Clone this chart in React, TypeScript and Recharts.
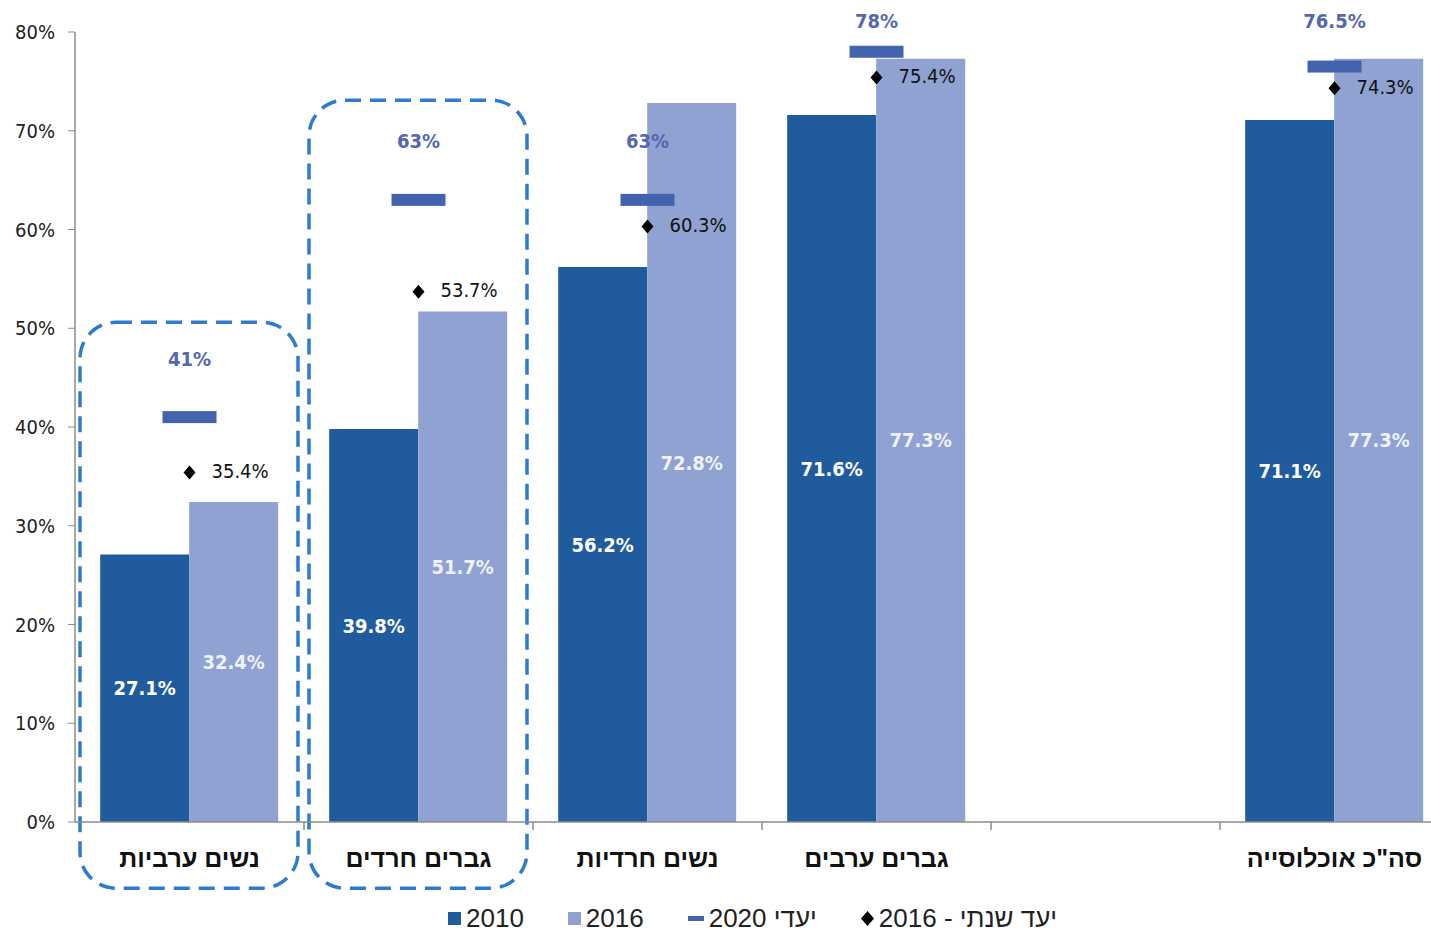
import React from "react";
import { Bar, ComposedChart, LabelList, Legend, ReferenceArea, Scatter, XAxis, YAxis } from "recharts";

const categories = ["נשים ערביות", "גברים חרדים", "נשים חרדיות", "גברים ערבים", "", 'סה"כ אוכלוסייה'];
const values2010 = [27.1, 39.8, 56.2, 71.6, null, 71.1];
const values2016 = [32.4, 51.7, 72.8, 77.3, null, 77.3];
const target2020 = [41, 63, 63, 78, null, 76.5];
const annual2016 = [35.4, 53.7, 60.3, 75.4, null, 74.3];
const yTicks = [0, 10, 20, 30, 40, 50, 60, 70, 80];

// dashed frames around the first two groups (in % units)
const boxedCategories = ["נשים ערביות", "גברים חרדים"];
const boxTops = [50.6, 73.1];
const boxBottom = -6.7;

const legendLabels = ["2010", "2016", "יעדי 2020", "יעד שנתי - 2016"];

const DARK = "#1f5b9d";
const LIGHT = "#8fa2d1";
const TARGET = "#4363ae";
const TARGET_TEXT = "#5467b0";
const FRAME = "#2d7bd0";
const FONT = '"DejaVu Sans Condensed", "Open Sans", "DejaVu Sans", sans-serif';

const rows = categories.map((name, i) => ({
  name,
  y2010: values2010[i],
  y2016: values2016[i],
  target: target2020[i],
  annual: annual2016[i],
}));

function CategoryTick(props: any) {
  const { x, y, payload, width } = props;
  const half = width / categories.length / 2;
  return (
    <g>
      <line x1={x + half} x2={x + half} y1={y} y2={y + 8} stroke="#8c8c8c" strokeWidth={1.5} />
      <text
        x={x}
        y={y + 45}
        textAnchor="middle"
        fill="#111"
        fontFamily='"Liberation Sans", Arial, sans-serif'
        fontWeight="bold"
        fontSize={25}
      >
        {payload.value}
      </text>
    </g>
  );
}

function TargetShape(props: any) {
  const { cx, cy, payload } = props;
  if (payload?.target == null || cx == null || cy == null) return <g />;
  return (
    <g>
      <rect x={cx - 27} y={cy - 6} width={54} height={12} fill={TARGET} />
      <text
        x={cx}
        y={Math.max(cy - 57, 22)}
        textAnchor="middle"
        dominantBaseline="middle"
        fill={TARGET_TEXT}
        fontFamily={FONT}
        fontWeight="bold"
        fontSize={20}
      >
        {`${payload.target}%`}
      </text>
    </g>
  );
}

function AnnualShape(props: any) {
  const { cx, cy, payload } = props;
  if (payload?.annual == null || cx == null || cy == null) return <g />;
  return (
    <g>
      <path d={`M${cx},${cy - 7} L${cx + 6},${cy} L${cx},${cy + 7} L${cx - 6},${cy} Z`} fill="#000" />
      <text x={cx + 22} y={cy} dominantBaseline="middle" fill="#111" fontFamily={FONT} fontSize={20}>
        {`${payload.annual.toFixed(1)}%`}
      </text>
    </g>
  );
}

function FrameShape(props: any) {
  const { x, y, width, height } = props;
  return (
    <rect
      x={x + 5}
      y={y}
      width={width - 11}
      height={height}
      rx={36}
      ry={36}
      fill="none"
      stroke={FRAME}
      strokeWidth={3.5}
      strokeDasharray="16 9"
    />
  );
}

function LegendContent() {
  const icon = (i: number) => {
    if (i === 0) return <span style={{ width: 13, height: 13, background: DARK, display: "inline-block" }} />;
    if (i === 1) return <span style={{ width: 13, height: 13, background: LIGHT, display: "inline-block" }} />;
    if (i === 2) return <span style={{ width: 16, height: 5, background: TARGET, display: "inline-block" }} />;
    return (
      <svg width={13} height={15}>
        <path d="M6.5,0 L13,7.5 L6.5,15 L0,7.5 Z" fill="#000" />
      </svg>
    );
  };
  return (
    <div
      style={{
        display: "flex",
        alignItems: "center",
        height: 30,
        paddingLeft: 448,
        fontFamily: '"Liberation Sans", Arial, sans-serif',
        fontSize: 26,
        color: "#222",
      }}
    >
      {legendLabels.map((label, i) => (
        <div key={label} style={{ display: "flex", alignItems: "center", marginRight: 44 }}>
          {icon(i)}
          <span style={{ marginLeft: 5 }}>{label}</span>
        </div>
      ))}
    </div>
  );
}

export default function App() {
  return (
    <div style={{ position: "absolute", left: 0, top: 0, width: 1431, height: 933, overflow: "hidden", background: "#fff" }}>
      <ComposedChart width={1449} height={933} data={rows} margin={{ top: 32, right: 0, bottom: 0, left: 0 }} barCategoryGap="11%" barGap={0}>
        <XAxis
          dataKey="name"
          height={81}
          axisLine={{ stroke: "#8c8c8c", strokeWidth: 1.5 }}
          tickLine={false}
          tickSize={0}
          tickMargin={0}
          interval={0}
          tick={<CategoryTick />}
        />
        <YAxis
          width={75}
          domain={[0, 80]}
          ticks={yTicks}
          tickFormatter={(v) => `${v}%`}
          axisLine={{ stroke: "#8c8c8c", strokeWidth: 1.5 }}
          tickLine={{ stroke: "#8c8c8c" }}
          tickSize={7}
          tickMargin={13}
          tick={{ fill: "#222", fontSize: 20, fontFamily: FONT }}
          interval={0}
        />
        {boxedCategories.map((c, i) => (
          <ReferenceArea key={c} x1={c} x2={c} y1={boxBottom} y2={boxTops[i]} ifOverflow="visible" shape={<FrameShape />} />
        ))}
        <Bar dataKey="y2010" fill={DARK} isAnimationActive={false}>
          <LabelList
            dataKey="y2010"
            position="center"
            formatter={(v: any) => (v == null ? "" : `${Number(v).toFixed(1)}%`)}
            fill="#ffffff"
            style={{ fontFamily: FONT, fontWeight: "bold", fontSize: 20 }}
          />
        </Bar>
        <Bar dataKey="y2016" fill={LIGHT} isAnimationActive={false}>
          <LabelList
            dataKey="y2016"
            position="center"
            formatter={(v: any) => (v == null ? "" : `${Number(v).toFixed(1)}%`)}
            fill="#eef2fa"
            style={{ fontFamily: FONT, fontWeight: "bold", fontSize: 20 }}
          />
        </Bar>
        <Scatter dataKey="target" shape={<TargetShape />} isAnimationActive={false} />
        <Scatter dataKey="annual" shape={<AnnualShape />} isAnimationActive={false} />
        <Legend verticalAlign="bottom" content={<LegendContent />} />
      </ComposedChart>
    </div>
  );
}
